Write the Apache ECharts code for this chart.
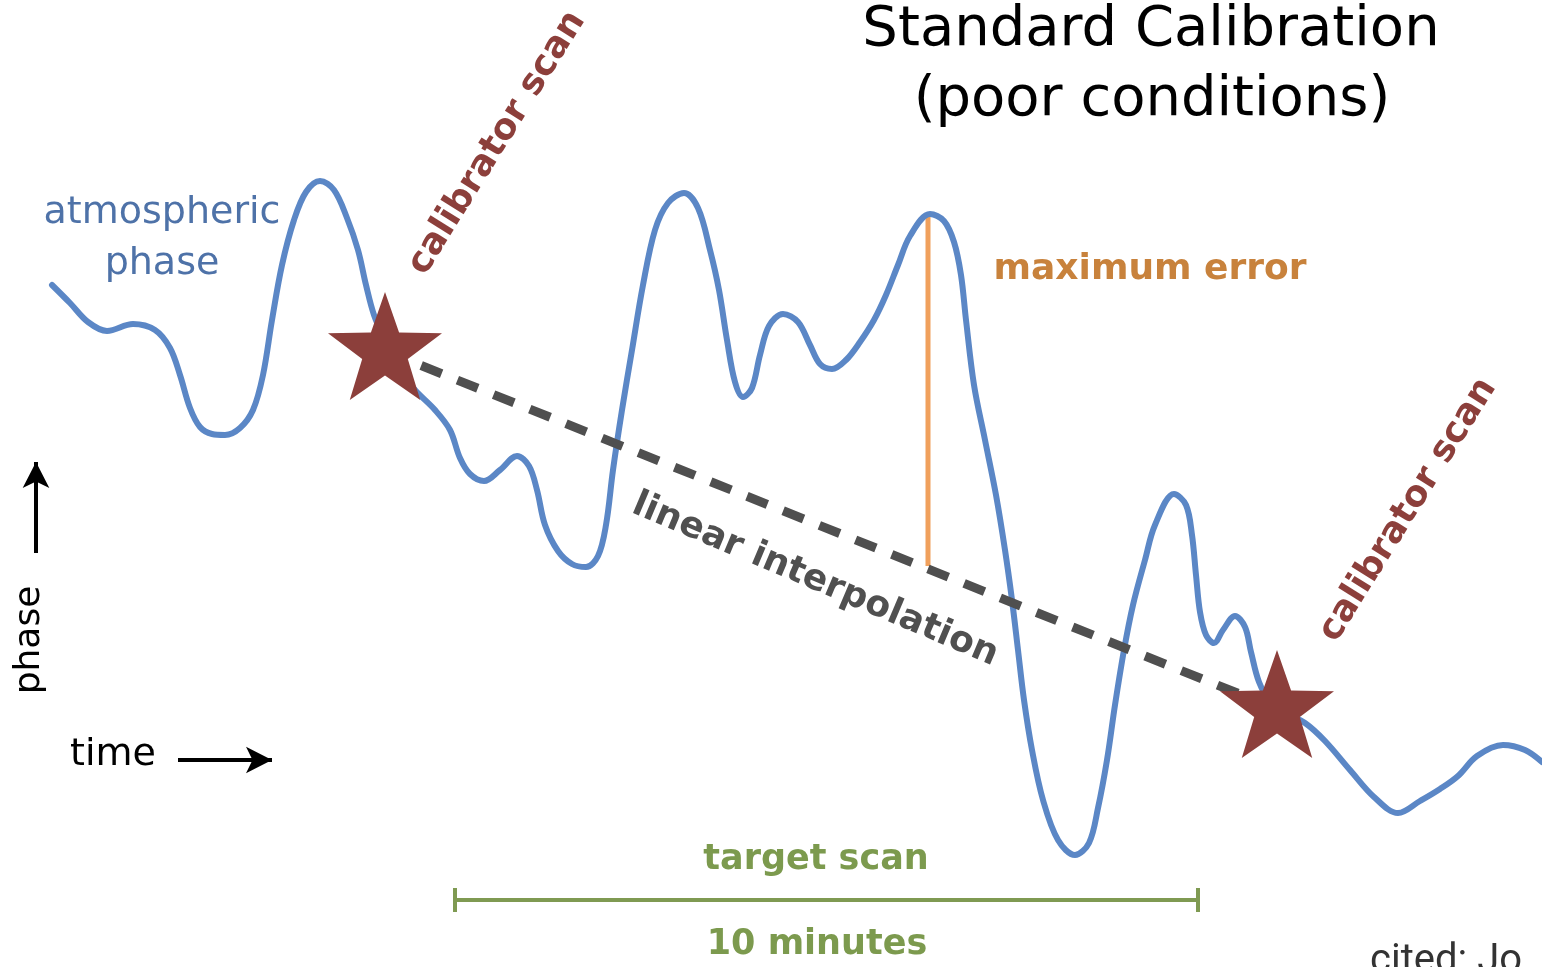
<!DOCTYPE html>
<html><head><meta charset="utf-8">
<script src="https://cdn.jsdelivr.net/npm/echarts@6/dist/echarts.min.js"></script>
<style>html,body{margin:0;padding:0;background:#fff}#c{width:1542px;height:967px}</style>
</head><body><div id="c"></div>
<script>
// ---- data (time on x, phase on an inverted y scale) ----
const curveTime = [52,70,88,107,133,155,170,180,190,200,212,225,240,253,263,272,282,294,306,320,334,347,358,366,374,385,398,415,435,450,460,470,484,500,517,529,537,545,558,572,586,598,606,613,622,632,643,655,668,684,698,710,719,727,735,743,752,760,769,783,798,810,820,832,846,860,874,886,898,910,930,944,954,961,966,974,985,996,1005,1012,1018,1024,1032,1043,1058,1075,1089,1098,1107,1115,1124,1133,1145,1155,1174,1186,1192,1196,1200,1206,1214,1223,1235,1245,1251,1259,1270,1285,1305,1325,1350,1374,1398,1420,1440,1458,1477,1503,1525,1542];
const curvePhase = [285,303,322,331,324,330,348,375,408,427,434,435,428,410,375,320,265,220,192,181,190,218,250,285,315,340,368,390,410,430,458,474,481,470,456,466,490,525,551,564,567,556,525,470,410,350,285,230,203,193,208,250,290,340,382,397,388,355,326,314,322,345,364,369,360,342,320,295,265,236,214,221,242,275,320,385,440,495,550,600,650,700,750,800,840,855,843,808,760,705,650,605,560,525,494,505,535,575,612,635,643,630,616,627,652,682,701,713,723,741,770,797,813,801,789,776,756,745,750,762];
const calibTime = [385, 1277];
const calibPhase = [351, 709];
const maxErrTime = 928;
const maxErrPhase = [214, 566];
const targetTime = [455, 1198];
const targetLevel = 900;
const targetTick = [888, 912];

function starPath(){
  const pts=[];
  for(let i=0;i<10;i++){
    const a=-Math.PI/2+i*Math.PI/5, r=(i%2===0)?100:40;
    pts.push((100+r*Math.cos(a)).toFixed(2)+' '+(100+r*Math.sin(a)).toFixed(2));
  }
  return 'path://M'+pts.join(' L')+' Z';
}
const F = '"DejaVu Sans", sans-serif';
const chart = echarts.init(document.getElementById('c'), null, {renderer:'canvas'});
const pair = (xs, ys) => xs.map((x,i)=>[x, ys[i]]);
const textEl = (t, x, y, size, color, weight, rot) => ({
  type:'text', x:x, y:y, rotation:(rot||0)*Math.PI/180, z:100,
  style:{text:t, fill:color, font:(weight||'normal')+' '+size+'px '+F, textAlign:'center', textVerticalAlign:'middle'}
});
chart.setOption({
  animation:false,
  backgroundColor:'#fff',
  grid:{left:0,right:0,top:0,bottom:0},
  xAxis:{type:'value', min:0, max:1542, show:false},
  yAxis:{type:'value', min:0, max:967, inverse:true, show:false},
  series:[
    {type:'line', data:pair(curveTime, curvePhase), smooth:0.35, showSymbol:false, symbol:'none',
     lineStyle:{color:'#5B87C6', width:6, cap:'round', join:'round'}, z:2},
    {type:'line', data:pair(calibTime, calibPhase), showSymbol:false, symbol:'none',
     lineStyle:{color:'#4F4F4F', width:9, type:[22,17]}, z:3},
    {type:'line', data:[[maxErrTime, maxErrPhase[0]],[maxErrTime, maxErrPhase[1]]], showSymbol:false, symbol:'none',
     lineStyle:{color:'#F0A05C', width:5}, z:1},
    {type:'line', data:[[targetTime[0], targetLevel],[targetTime[1], targetLevel]], showSymbol:false, symbol:'none',
     lineStyle:{color:'#7F9A52', width:4}},
    {type:'line', data:[[targetTime[0], targetTick[0]],[targetTime[0], targetTick[1]]], showSymbol:false, symbol:'none',
     lineStyle:{color:'#7F9A52', width:4}},
    {type:'line', data:[[targetTime[1], targetTick[0]],[targetTime[1], targetTick[1]]], showSymbol:false, symbol:'none',
     lineStyle:{color:'#7F9A52', width:4}},
    {type:'scatter', data:pair(calibTime, calibPhase), symbol:starPath(), symbolSize:[114,108], symbolOffset:[0,-5],
     itemStyle:{color:'#8C3F3B', opacity:1}, z:10},
    {type:'line', data:[], markLine:{silent:true, symbol:['none','arrow'], symbolSize:[20,26], label:{show:false},
      lineStyle:{color:'#000', width:4, type:'solid'},
      data:[[{coord:[36,553]},{coord:[36,462]}],[{coord:[178,760]},{coord:[272,760]}]]}}
  ],
  graphic:[
    textEl('Standard Calibration', 1151, 30, 56, '#000'),
    textEl('(poor conditions)', 1152, 100, 56, '#000'),
    textEl('atmospheric', 162, 213, 38, '#4E72A8'),
    textEl('phase', 162, 264, 38, '#4E72A8'),
    textEl('calibrator scan', 497, 143, 36, '#8C3F3B', 'bold', 58),
    textEl('calibrator scan', 1408, 510, 36, '#8C3F3B', 'bold', 58),
    textEl('maximum error', 1150, 270, 36, '#C8823C', 'bold'),
    textEl('linear interpolation', 815, 580, 36, '#505050', 'bold', -23),
    textEl('phase', 30, 640, 36, '#000', 'normal', 90),
    textEl('time', 113, 755, 38, '#000'),
    textEl('target scan', 816, 860, 35, '#7C9A4E', 'bold'),
    textEl('10 minutes', 817, 945, 35, '#7C9A4E', 'bold'),
    {type:'text', x:1370, y:962, z:100, style:{text:'cited: Jo', fill:'#333', font:'normal 40px Roboto, sans-serif', textAlign:'left', textVerticalAlign:'middle'}}
  ]
});
</script></body></html>
